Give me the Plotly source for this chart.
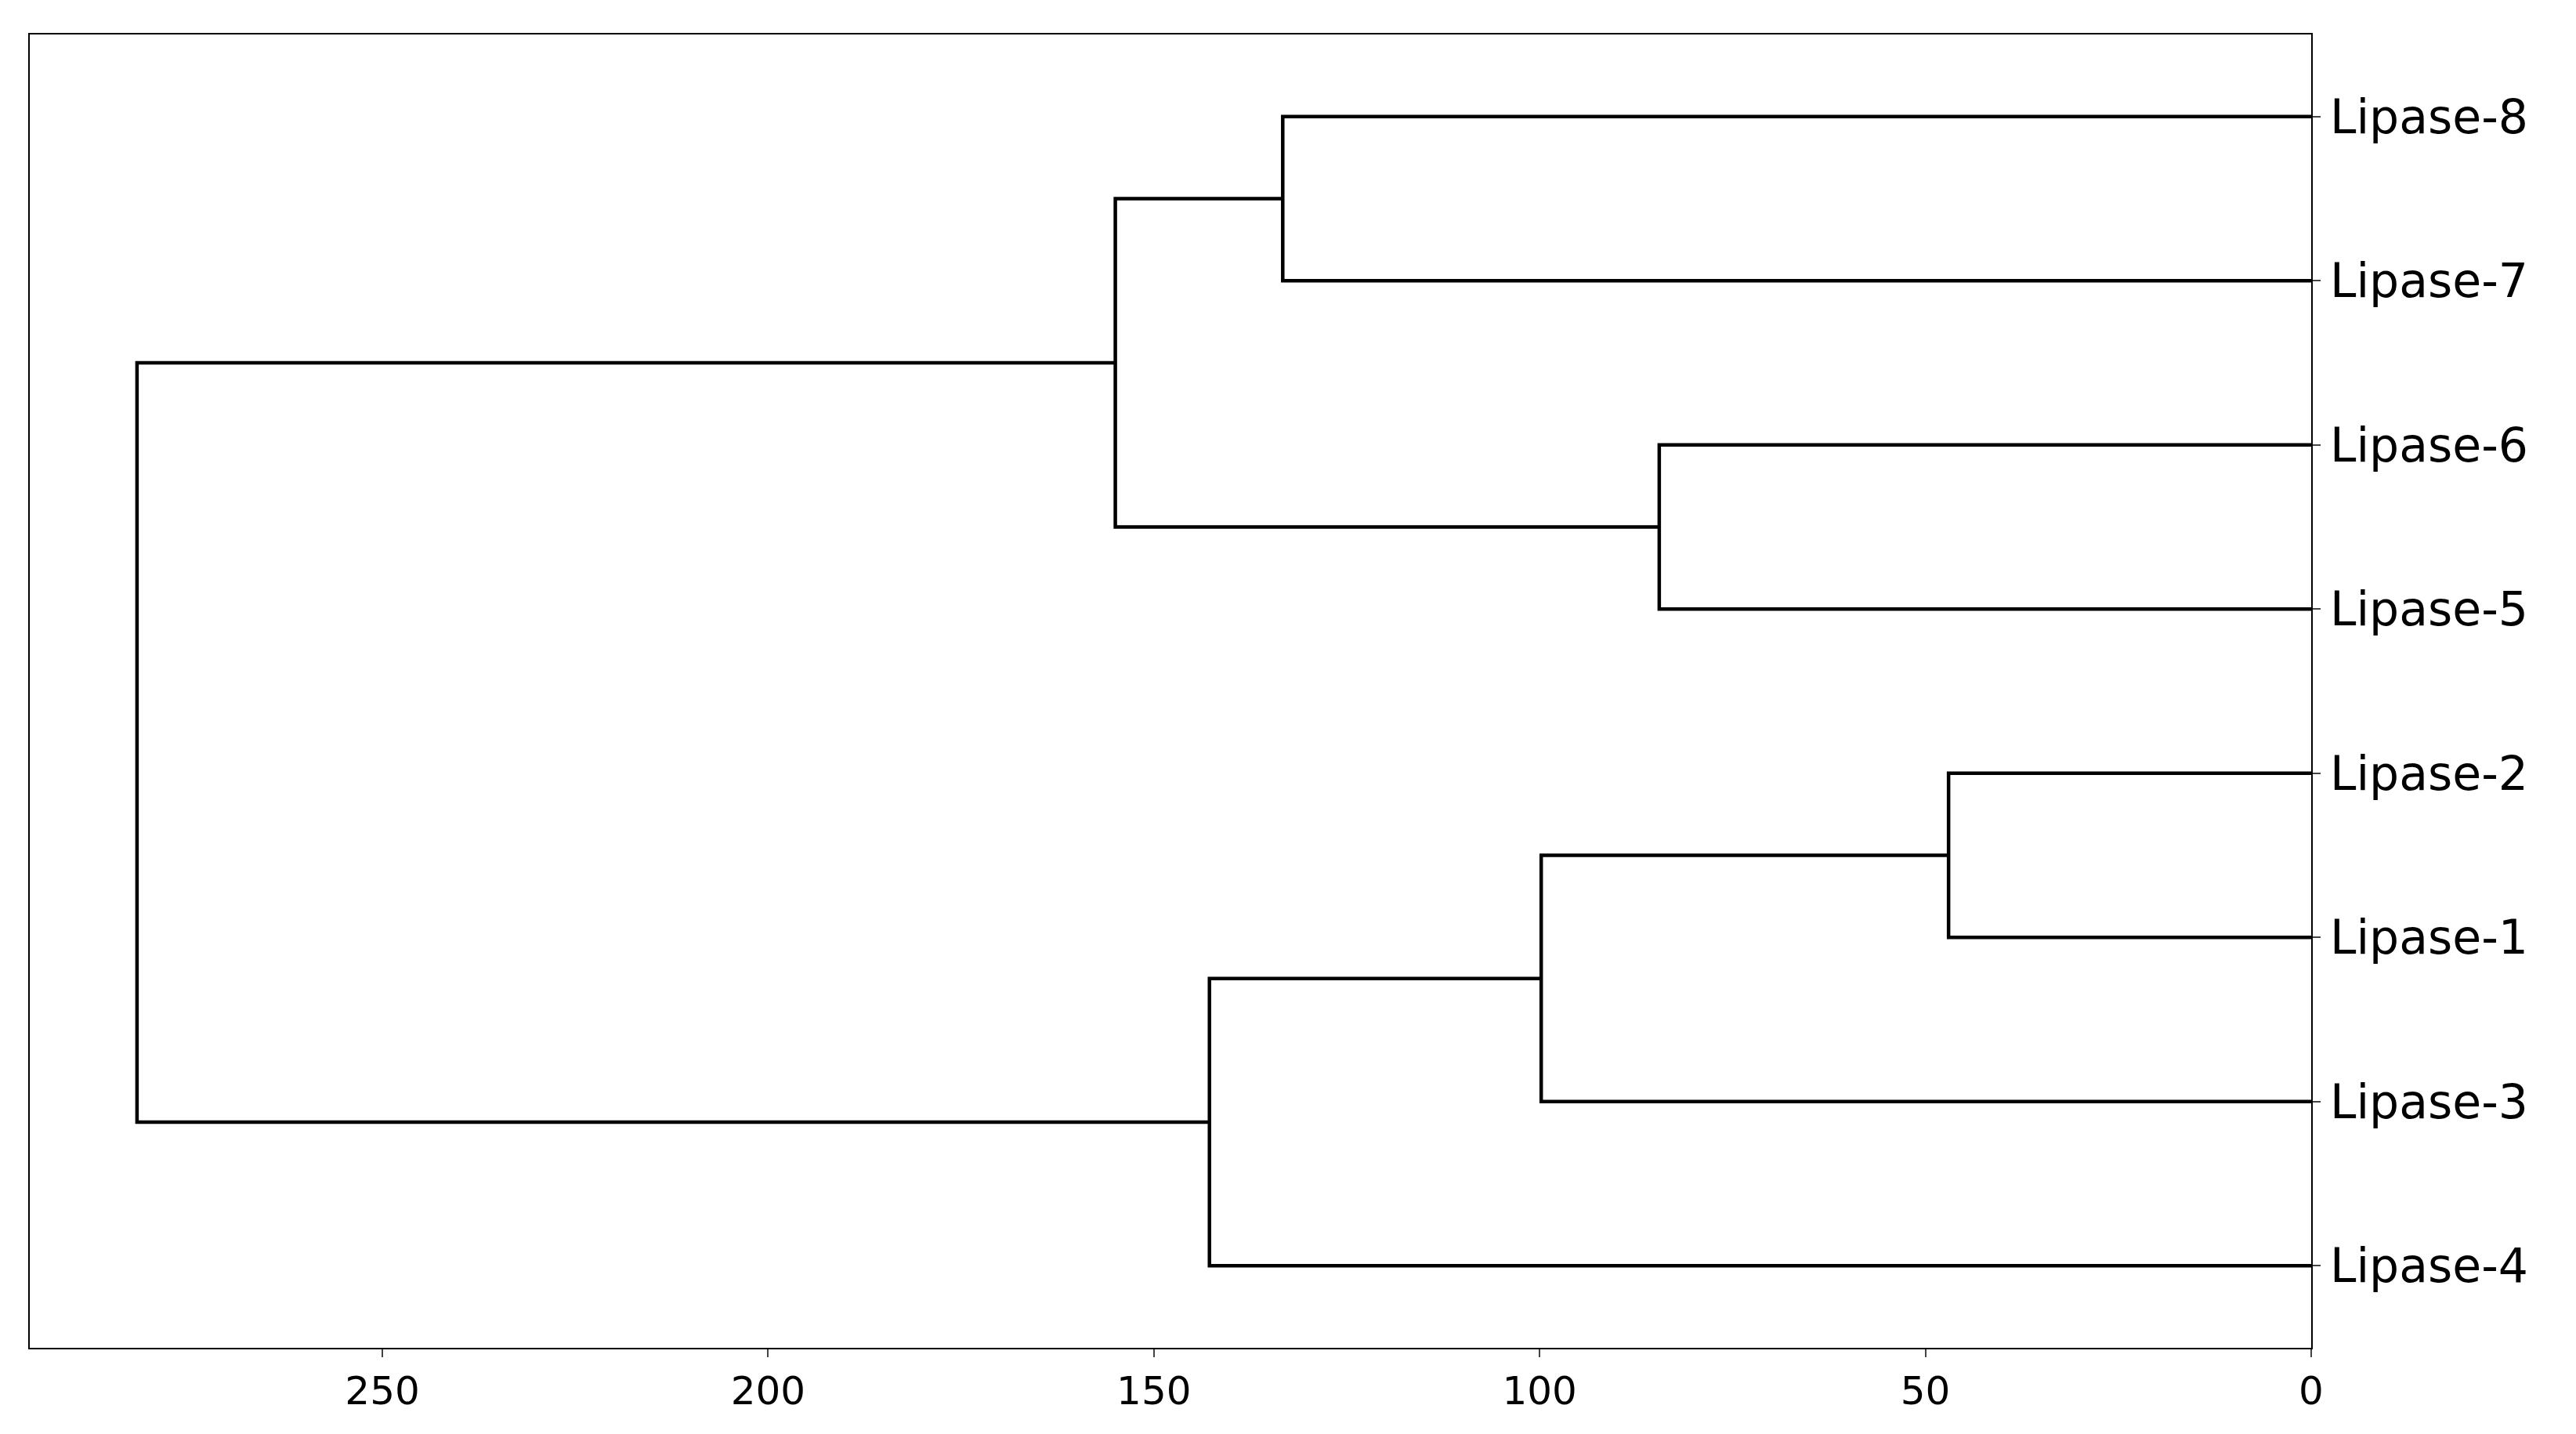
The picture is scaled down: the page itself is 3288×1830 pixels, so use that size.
import plotly.graph_objects as go

# leaves from top to bottom
leaves = ['Lipase-8', 'Lipase-7', 'Lipase-6', 'Lipase-5',
          'Lipase-2', 'Lipase-1', 'Lipase-3', 'Lipase-4']
# merges: (left child, right child, distance); children are leaf names or merge index
merges = [
    ('Lipase-2', 'Lipase-1', 47.0),
    ('Lipase-6', 'Lipase-5', 84.5),
    (0, 'Lipase-3', 99.8),
    ('Lipase-8', 'Lipase-7', 133.3),
    (2, 'Lipase-4', 142.8),
    (3, 1, 155.0),
    (5, 4, 281.8),
]
x_ticks = [250, 200, 150, 100, 50, 0]

n = len(leaves)
leaf_y = {name: 10 * (n - i) - 5 for i, name in enumerate(leaves)}

def pos(c, node_pos):
    if isinstance(c, str):
        return 0.0, leaf_y[c]
    return node_pos[c]

node_pos = {}
xs, ys = [], []
for k, (a, b, h) in enumerate(merges):
    ha, ya = pos(a, node_pos)
    hb, yb = pos(b, node_pos)
    xs += [ha, h, h, hb, None]
    ys += [ya, ya, yb, yb, None]
    node_pos[k] = (h, (ya + yb) / 2)

fig = go.Figure(go.Scatter(x=xs, y=ys, mode='lines',
                           line=dict(color='black', width=4.5),
                           hoverinfo='skip'))

fig.update_layout(
    width=3288, height=1830,
    plot_bgcolor='white', paper_bgcolor='white',
    margin=dict(l=30, r=346, t=36, b=118),
    showlegend=False,
    font=dict(family='DejaVu Sans', color='black'),
)
fig.update_xaxes(range=[295.7, 0], tickvals=x_ticks, ticks='outside',
                 ticklen=10, tickwidth=2, tickfont=dict(size=50),
                 showgrid=False, zeroline=False, showline=True,
                 linecolor='black', linewidth=2, mirror=True)
fig.update_yaxes(range=[0, 80], side='right',
                 tickvals=[leaf_y[l] for l in leaves], ticktext=leaves,
                 ticks='outside', ticklen=10, tickwidth=2,
                 tickfont=dict(size=60),
                 showgrid=False, zeroline=False, showline=True,
                 linecolor='black', linewidth=2, mirror=True)

fig.write_html('out.html')
